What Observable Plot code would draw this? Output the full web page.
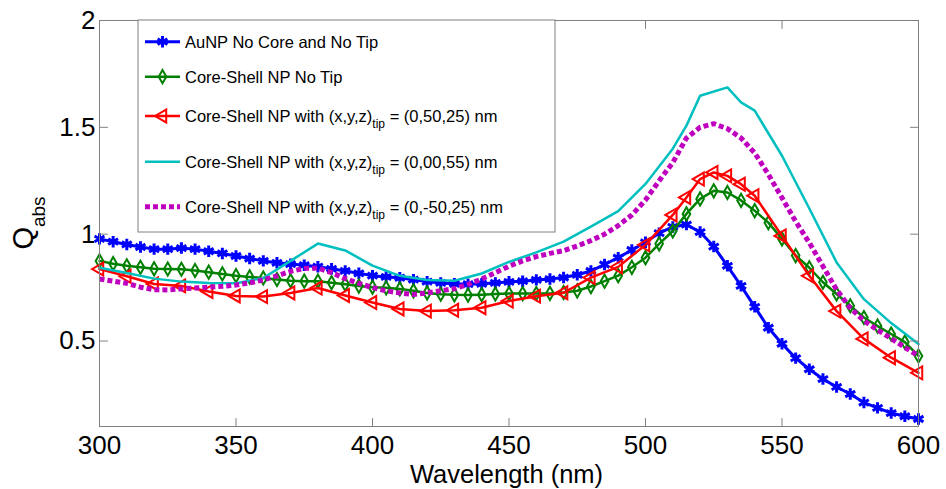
<!DOCTYPE html>
<html><head><meta charset="utf-8">
<script src="https://cdn.jsdelivr.net/npm/d3@7"></script>
<script src="https://cdn.jsdelivr.net/npm/@observablehq/plot@0.6"></script>
<style>body{margin:0;background:#fff} #chart{width:946px;height:489px}</style>
</head><body><div id="chart"></div>
<script>
// Wavelengths (nm), 5 nm grid
const wl5 = [300,305,310,315,320,325,330,335,340,345,350,355,360,365,370,375,380,385,390,395,400,405,410,415,420,425,430,435,440,445,450,455,460,465,470,475,480,485,490,495,500,505,510,515,520,525,530,535,540,545,550,555,560,565,570,575,580,585,590,595,600];
// AuNP No Core and No Tip
const qAuNP = [0.978,0.965,0.952,0.94,0.93,0.93,0.935,0.93,0.92,0.91,0.898,0.886,0.875,0.866,0.86,0.855,0.848,0.838,0.828,0.817,0.806,0.80,0.796,0.787,0.778,0.772,0.768,0.766,0.768,0.772,0.777,0.78,0.786,0.79,0.797,0.81,0.828,0.858,0.89,0.926,0.962,1.005,1.034,1.045,1.01,0.942,0.852,0.758,0.66,0.562,0.487,0.42,0.368,0.322,0.285,0.252,0.212,0.187,0.163,0.148,0.135];
// Core-Shell NP No Tip
const qCoreShell = [0.875,0.862,0.852,0.845,0.838,0.837,0.836,0.83,0.822,0.814,0.806,0.8,0.795,0.788,0.782,0.78,0.78,0.773,0.766,0.757,0.752,0.749,0.744,0.735,0.725,0.719,0.716,0.715,0.717,0.72,0.722,0.722,0.722,0.723,0.727,0.735,0.755,0.78,0.806,0.845,0.89,0.955,1.015,1.095,1.165,1.203,1.195,1.158,1.11,1.054,0.978,0.9,0.843,0.775,0.72,0.665,0.61,0.57,0.533,0.495,0.43];
// Core-Shell NP with tip (0,50,25)
const wlTip5025 = [300,310,320,330,340,350,360,370,380,390,400,410,420,430,440,450,460,470,480,490,500,510,515,520,525,530,535,540,550,560,570,580,590,600];
const qTip5025 = [0.837,0.803,0.767,0.758,0.732,0.711,0.708,0.725,0.748,0.713,0.68,0.65,0.64,0.644,0.656,0.687,0.71,0.726,0.797,0.847,0.95,1.09,1.172,1.258,1.289,1.273,1.234,1.18,0.992,0.805,0.64,0.51,0.422,0.351];
// Core-Shell NP with tip (0,00,55)
const wlTip0055 = [300,310,320,330,340,350,360,370,380,390,400,410,420,430,440,450,460,470,480,490,500,510,515,520,530,535,540,550,560,570,580,590,600];
const qTip0055 = [0.843,0.818,0.792,0.778,0.772,0.77,0.795,0.875,0.956,0.924,0.853,0.805,0.786,0.782,0.816,0.87,0.915,0.965,1.035,1.108,1.235,1.40,1.508,1.648,1.687,1.617,1.578,1.367,1.12,0.868,0.696,0.584,0.486];
// Core-Shell NP with tip (0,-50,25), on the 5 nm grid
const qTipM5025 = [0.79,0.78,0.77,0.752,0.74,0.739,0.744,0.748,0.752,0.756,0.762,0.772,0.786,0.805,0.826,0.84,0.842,0.82,0.792,0.77,0.75,0.735,0.725,0.718,0.725,0.735,0.745,0.765,0.79,0.82,0.85,0.875,0.895,0.91,0.923,0.945,0.97,1.0,1.04,1.09,1.16,1.25,1.335,1.45,1.5,1.517,1.494,1.45,1.38,1.28,1.17,1.06,0.96,0.85,0.74,0.655,0.595,0.552,0.512,0.47,0.43];

const seriesNames = ["AuNP No Core and No Tip","Core-Shell NP No Tip","Core-Shell NP with (x,y,z)tip = (0,50,25) nm","Core-Shell NP with (x,y,z)tip = (0,00,55) nm","Core-Shell NP with (x,y,z)tip = (0,-50,25) nm"];
const xTicks = [300,350,400,450,500,550,600];
const yTicks = [0.5,1,1.5,2];
const yTickLabels = ["0.5","1","1.5","2"];

const C = {blue:"#0000ff", green:"#008000", red:"#ff0000", cyan:"#00bfbf", magenta:"#bf00bf"};
const rows = (xs, ys) => xs.map((x,i)=>({x, y: ys[i]}));
const dBlue = rows(wl5, qAuNP), dGreen = rows(wl5, qCoreShell), dRed = rows(wlTip5025, qTip5025),
      dCyan = rows(wlTip0055, qTip0055), dMag = rows(wl5, qTipM5025);
const font = "'Liberation Sans', Arial, Helvetica, sans-serif";
const grey = "#808080";
// inward tick shape for Plot.vector
const tickShape = {draw(ctx, l) { ctx.moveTo(0, 0); ctx.lineTo(0, -l); }};
const tickOpts = {length: 8, anchor: "start", shape: tickShape, stroke: grey, strokeWidth: 1};

const plot = Plot.plot({
  width: 946, height: 489,
  marginLeft: 99, marginRight: 28, marginTop: 20, marginBottom: 63,
  style: {fontFamily: font, background: "#fff", color: "#000"},
  x: {domain: [300, 600]},
  y: {domain: [0.1, 2]},
  marks: [
    Plot.line(dBlue, {x:"x", y:"y", stroke:C.blue, strokeWidth:3}),
    Plot.dot(dBlue, {x:"x", y:"y", symbol:"asterisk", r:5.4, stroke:C.blue, strokeWidth:3}),
    Plot.line(dGreen, {x:"x", y:"y", stroke:C.green, strokeWidth:2.5}),
    Plot.dot(dGreen, {x:"x", y:"y", symbol:"diamond", r:4, fill:"none", stroke:C.green, strokeWidth:2}),
    Plot.line(dRed, {x:"x", y:"y", stroke:C.red, strokeWidth:2.5}),
    Plot.dot(dRed, {x:"x", y:"y", symbol:"triangle", r:4.8, rotate:-90, fill:"none", stroke:C.red, strokeWidth:2}),
    Plot.line(dCyan, {x:"x", y:"y", stroke:C.cyan, strokeWidth:2.5}),
    Plot.line(dMag, {x:"x", y:"y", stroke:C.magenta, strokeWidth:5, strokeDasharray:"5,3", strokeLinecap:"butt", strokeLinejoin:"miter"}),
    Plot.frame({stroke: grey}),
    Plot.vector(xTicks, {x: d => d, frameAnchor: "bottom", rotate: 0, ...tickOpts}),
    Plot.vector(xTicks, {x: d => d, frameAnchor: "top", rotate: 180, ...tickOpts}),
    Plot.vector(yTicks, {y: d => d, frameAnchor: "left", rotate: 90, ...tickOpts}),
    Plot.vector(yTicks, {y: d => d, frameAnchor: "right", rotate: -90, ...tickOpts}),
    Plot.axisX(xTicks, {anchor:"bottom", tickSize:0, tickPadding:9, fontSize:26, fill:"#000", label:null}),
    Plot.axisY(yTicks, {anchor:"left", tickSize:0, tickPadding:4, fontSize:26, fill:"#000", tickFormat:(d,i)=>yTickLabels[i], label:null})
  ]
});
document.getElementById("chart").appendChild(plot);

const svg = d3.select(plot);
const xs = plot.scale("x"), ys = plot.scale("y");
const fLeft = xs.range[0], fRight = xs.range[1], fBottom = ys.range[0], fTop = ys.range[1];

// axis labels
svg.append("text").attr("x", (fLeft+fRight)/2 - 2).attr("y", 482.5).attr("text-anchor","middle")
  .attr("font-size", 25.5).attr("font-family", font).attr("fill","#000").text("Wavelength (nm)");
const yl = svg.append("text").attr("transform", `translate(33,${(fTop+fBottom)/2}) rotate(-90)`)
  .attr("text-anchor","middle").attr("font-family", font).attr("fill","#000");
yl.append("tspan").attr("font-size", 29).text("Q");
yl.append("tspan").attr("font-size", 19).attr("dy", 12).text("abs");

// legend
const lg = svg.append("g").attr("text-anchor","start");
const lx0 = fLeft + 39, lx1 = 555, ly0 = fTop, ly1 = 232;
lg.append("rect").attr("x", lx0).attr("y", ly0).attr("width", lx1-lx0).attr("height", ly1-ly0)
  .attr("fill","#fff").attr("stroke", grey);
const rowsY = [41.7, 76.7, 116, 161.7, 206.7];
const styles = [
  {c:C.blue, w:3, sym:d3.symbolAsterisk, r:5.4, fill:false, sw:3},
  {c:C.green, w:2.5, sym:d3.symbolDiamond, r:4, fill:false, sw:2},
  {c:C.red, w:2.5, sym:d3.symbolTriangle, r:4.8, fill:false, rot:-90, sw:2},
  {c:C.cyan, w:2.5},
  {c:C.magenta, w:5, dash:"5,3"}
];
seriesNames.forEach((name, i) => {
  const y = rowsY[i], s = styles[i];
  const ln = lg.append("line").attr("x1",145).attr("x2",180).attr("y1",y).attr("y2",y)
    .attr("stroke", s.c).attr("stroke-width", s.w);
  if (s.dash) ln.attr("stroke-dasharray", s.dash);
  if (s.sym) {
    lg.append("path").attr("d", d3.symbol(s.sym, Math.PI*s.r*s.r)())
      .attr("transform", `translate(162.5,${y}) rotate(${s.rot||0})`)
      .attr("fill", s.fill ? s.c : "none").attr("stroke", s.c).attr("stroke-width", s.sw);
  }
  const t = lg.append("text").attr("x",185).attr("y", y+5.8).attr("font-size",16.5)
    .attr("text-anchor","start").attr("font-family", font).attr("fill","#000");
  const m = name.match(/^(.*\(x,y,z\))tip( = .*)$/);
  if (m) {
    t.append("tspan").text(m[1]);
    t.append("tspan").attr("font-size",12).attr("dy",6).text("tip");
    t.append("tspan").attr("dy",-6).text(m[2]);
  } else t.text(name);
});
</script></body></html>
